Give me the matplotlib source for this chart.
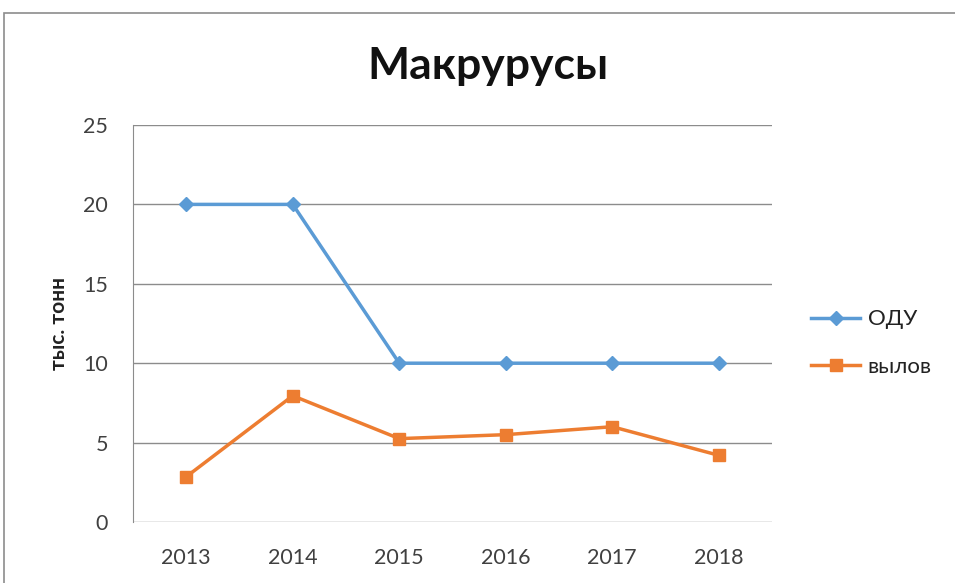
import matplotlib.pyplot as plt
import matplotlib.patches as mpatches

plt.rcParams['font.family'] = ['Lato', 'DejaVu Sans']

years = ['2013', '2014', '2015', '2016', '2017', '2018']
odu = [20, 20, 10, 10, 10, 10]
catch = [2.85, 7.95, 5.25, 5.5, 6.0, 4.2]

fig = plt.figure(figsize=(9.55, 5.83), dpi=100)

# рамка области диаграммы
frame = mpatches.Rectangle((4 / 955, -0.1), 1.1, 1 - 13 / 583 + 0.1,
                           transform=fig.transFigure, fill=False,
                           edgecolor='#8c8c8c', linewidth=1.2)
fig.patches.append(frame)

ax = fig.add_axes([133 / 955, 1 - 522 / 583, (772 - 133) / 955, (522 - 125) / 583])

x = list(range(len(years)))
ax.plot(x, odu, color='#5B9BD5', linewidth=2.5, marker='D', markersize=7, label='ОДУ')
ax.plot(x, catch, color='#ED7D31', linewidth=2.5, marker='s', markersize=8, label='вылов')

ax.set_xlim(-0.5, 5.5)
ax.set_ylim(0, 25)
ax.set_yticks([0, 5, 10, 15, 20, 25])
ax.set_xticks(x)
ax.set_xticklabels(years)
ax.grid(axis='y', color='#8c8c8c', linewidth=1)
ax.set_axisbelow(True)
for s in ['top', 'right', 'bottom']:
    ax.spines[s].set_visible(False)
ax.spines['left'].set_color('#8c8c8c')
ax.tick_params(length=0, labelsize=15.5, labelcolor='#404040')
ax.tick_params(axis='y', pad=18)
ax.tick_params(axis='x', pad=19)

ax.set_ylabel('тыс. тонн', fontsize=15, fontweight='bold', color='#222222', labelpad=10)

fig.text(488 / 955, 1 - 66 / 583, 'Макрурусы', ha='center', va='center',
         fontsize=32, fontweight='bold', color='#111111')

ax.legend(loc='center left', bbox_to_anchor=(1.03, 0.45), frameon=False,
          fontsize=16, labelspacing=1.25, handlelength=2.2, handletextpad=0.35,
          labelcolor='#222222')

fig.savefig('out.png', dpi=100)
